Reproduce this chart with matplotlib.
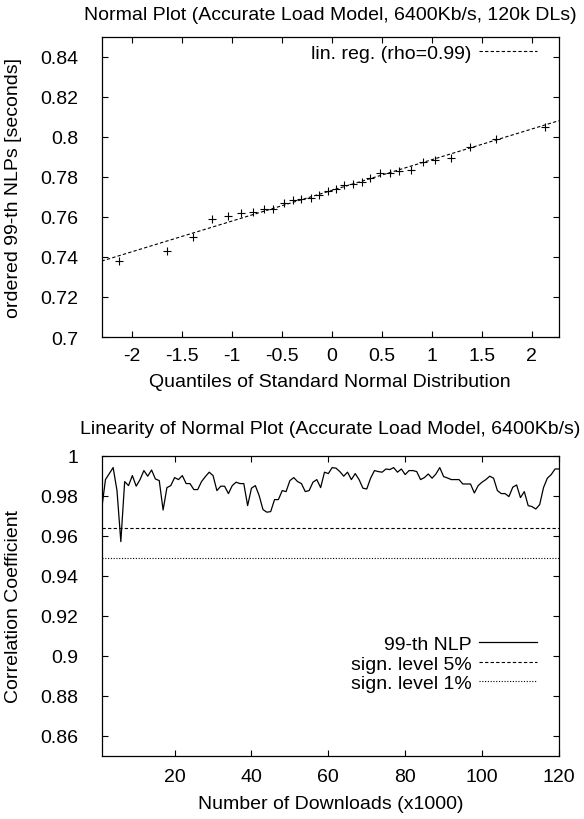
import matplotlib
matplotlib.use('Agg')
import matplotlib.pyplot as plt
import numpy as np

plt.rcParams['font.family'] = ['Liberation Sans', 'DejaVu Sans']
plt.rcParams['font.size'] = 14

# normal plot: quantiles of N(0,1) vs ordered 99-th NLPs
quantiles = [-2.128, -1.645, -1.383, -1.192, -1.036, -0.908, -0.792, -0.674, -0.583, -0.482,
             -0.385, -0.303, -0.210, -0.126, -0.042, 0.042, 0.126, 0.210, 0.303, 0.385,
             0.482, 0.583, 0.674, 0.792, 0.908, 1.036, 1.192, 1.383, 1.645, 2.128]
nlps = [0.7380, 0.7428, 0.7498, 0.7588, 0.7605, 0.7618, 0.7623, 0.7638, 0.7638, 0.7670,
        0.7687, 0.7690, 0.7695, 0.7710, 0.7728, 0.7740, 0.7762, 0.7765, 0.7773, 0.7793,
        0.7820, 0.7820, 0.7832, 0.7837, 0.7873, 0.7885, 0.7893, 0.7948, 0.7990, 0.8052]

# linearity of the normal plot over the number of downloads
downloads = list(range(1, 121))
corr = [0.973, 0.988, 0.991, 0.994, 0.9825, 0.957, 0.987, 0.985, 0.990, 0.9847,
        0.988, 0.9925, 0.9897, 0.9928, 0.9883, 0.9875, 0.9728, 0.984, 0.985, 0.989,
        0.988, 0.990, 0.986, 0.986, 0.983, 0.983, 0.987, 0.9895, 0.9917, 0.990,
        0.9825, 0.9847, 0.9847, 0.981, 0.985, 0.9867, 0.986, 0.986, 0.975, 0.9837,
        0.985, 0.980, 0.973, 0.9717, 0.972, 0.978, 0.978, 0.9825, 0.982, 0.9875,
        0.989, 0.987, 0.986, 0.982, 0.9825, 0.9867, 0.988, 0.984, 0.9917, 0.991,
        0.994, 0.9937, 0.992, 0.9897, 0.9917, 0.988, 0.991, 0.988, 0.9837, 0.9833,
        0.9887, 0.9925, 0.992, 0.9917, 0.9933, 0.993, 0.994, 0.9917, 0.9933, 0.9905,
        0.9925, 0.9925, 0.992, 0.988, 0.989, 0.9908, 0.9887, 0.9908, 0.994, 0.9895,
        0.9888, 0.988, 0.988, 0.988, 0.9858, 0.9858, 0.9858, 0.9813, 0.985, 0.9867,
        0.988, 0.9897, 0.9887, 0.9825, 0.981, 0.981, 0.9795, 0.9842, 0.9853, 0.979,
        0.982, 0.975, 0.9745, 0.9733, 0.9755, 0.984, 0.9887, 0.9905, 0.9933, 0.9933]
sign5 = 0.964
sign1 = 0.949


def style(ax, xpad=7):
    ax.tick_params(direction='in', length=4, width=0.8, top=True, right=True)
    ax.tick_params(axis='x', pad=xpad)
    ax.tick_params(axis='y', pad=17)
    for s in ax.spines.values():
        s.set_linewidth(0.9)
    ax.yaxis.set_major_formatter(plt.FormatStrFormatter('%g'))
    ax.xaxis.set_major_formatter(plt.FormatStrFormatter('%g'))


fig = plt.figure(figsize=(5.84, 8.2), dpi=100)

# top: normal plot
ax1 = fig.add_axes([0.174, 0.5878, 0.783, 0.366])
ax1.plot(quantiles, nlps, '+', color='black', markersize=5.5, markeredgewidth=0.8)
slope, icpt = np.polyfit(quantiles, nlps, 1)
xl = np.array([-2.3, 2.27])
ax1.plot(xl, icpt + slope * xl, color='black', lw=0.8, dashes=(3, 2),
         label='lin. reg. (rho=0.99)')
ax1.set_xlim(-2.3, 2.27)
ax1.set_ylim(0.7, 0.85)
ax1.set_xticks(np.arange(-2, 2.01, 0.5))
ax1.set_yticks(np.arange(0.7, 0.841, 0.02))
style(ax1)
ax1.set_title('Normal Plot (Accurate Load Model, 6400Kb/s, 120k DLs)', fontsize=14, pad=13)
ax1.set_xlabel('Quantiles of Standard Normal Distribution', labelpad=7)
ax1.set_ylabel('ordered 99-th NLPs [seconds]', labelpad=13)
ax1.legend(loc='center right', bbox_to_anchor=(0.952, 0.947), frameon=False,
           markerfirst=False, borderpad=0, borderaxespad=0, handlelength=3.0,
           handletextpad=0.35)

# bottom: linearity
ax2 = fig.add_axes([0.174, 0.0772, 0.783, 0.366])
ax2.plot(downloads, corr, color='black', lw=0.9, label='99-th NLP')
ax2.axhline(sign5, color='black', lw=0.8, dashes=(3, 2), label='sign. level 5%')
ax2.axhline(sign1, color='black', lw=0.8, dashes=(1, 1.5), label='sign. level 1%')
ax2.set_xlim(1, 120)
ax2.set_ylim(0.85, 1.0)
ax2.set_xticks(np.arange(20, 121, 20))
ax2.set_yticks(np.arange(0.86, 1.001, 0.02))
style(ax2, xpad=9)
ax2.set_title('Linearity of Normal Plot (Accurate Load Model, 6400Kb/s)', fontsize=14, pad=16)
ax2.set_xlabel('Number of Downloads (x1000)', labelpad=7)
ax2.set_ylabel('Correlation Coefficient', labelpad=13)
ax2.legend(loc='center right', bbox_to_anchor=(0.952, 0.306), frameon=False,
           markerfirst=False, borderpad=0, borderaxespad=0, handlelength=3.0,
           handletextpad=0.35, labelspacing=0.1)

fig.savefig('out.png', dpi=100)
